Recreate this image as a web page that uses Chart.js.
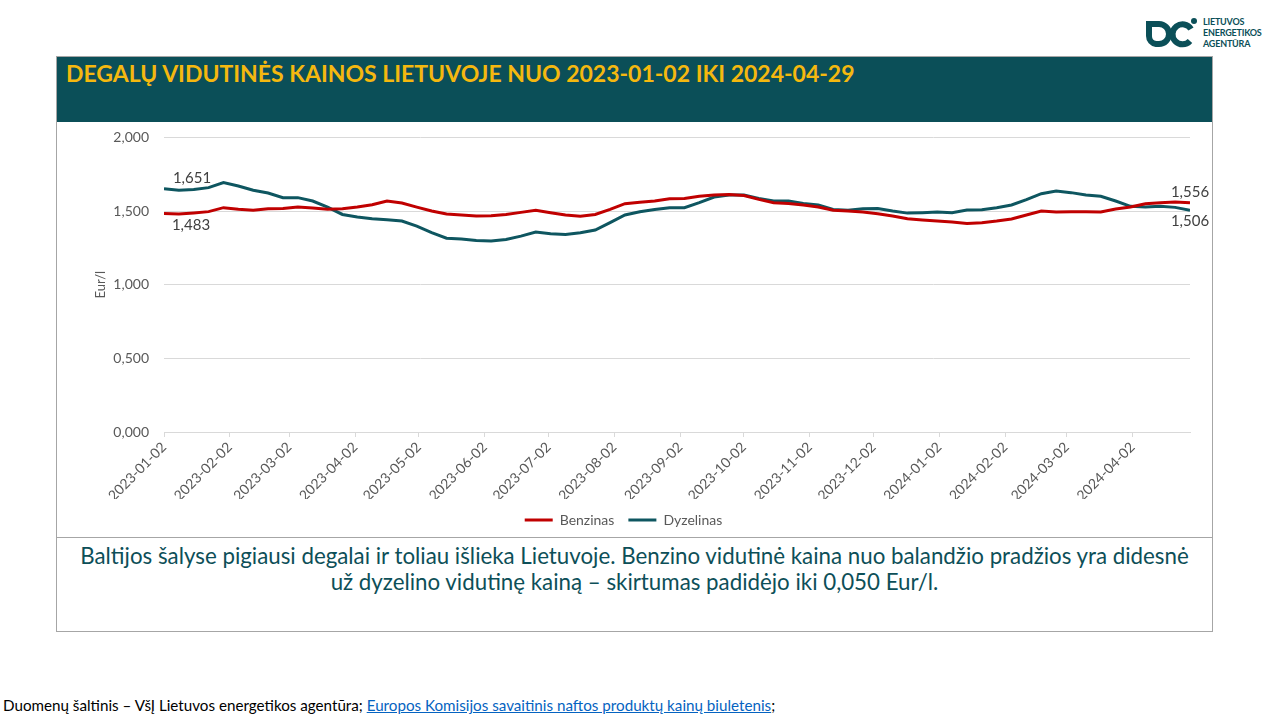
<!DOCTYPE html>
<html>
<head>
<meta charset="utf-8">
<script src="https://cdn.jsdelivr.net/npm/chart.js@4.4.1/dist/chart.umd.min.js"></script>
<style>
body{margin:0;width:1263px;height:720px;background:#fff;position:relative;overflow:hidden;font-family:Lato,"Open Sans",sans-serif;}
#frame{position:absolute;left:56px;top:56px;width:1155px;height:574px;border:1px solid #a6a6a6;}
#head{position:absolute;left:57px;top:57px;width:1155px;height:65px;background:#0b4f58;}
#title{position:absolute;left:66px;top:60px;line-height:26px;color:#f5b80f;font-weight:bold;font-size:23px;white-space:nowrap;}
#chartbox{position:absolute;left:57px;top:114px;width:1154px;height:423px;}
#sep{position:absolute;left:56px;top:537px;width:1157px;height:1px;background:#a6a6a6;}
#note{position:absolute;left:57px;top:543px;width:1155px;text-align:center;color:#0d4f58;font-size:22.3px;line-height:26px;}
#src{position:absolute;left:3px;top:696px;font-size:15.2px;line-height:18px;color:#000;white-space:nowrap;}
#src a{color:#0563c1;text-decoration:underline;}
#logo{position:absolute;left:1144px;top:16px;}
#logotext{position:absolute;left:1203px;top:16px;font-size:9px;line-height:11px;font-weight:bold;letter-spacing:-0.2px;color:#0b4f58;}
</style>
</head>
<body>
<svg id="logo" width="56" height="34" viewBox="0 0 56 34">
  <path d="M5 8 H15 A10 10 0 0 1 15 28 H12 A8 8 0 0 1 5 20 Z" fill="none" stroke="#0b4f58" stroke-width="6"/>
  <path d="M47 13 A10 10 0 1 0 46 25" fill="none" stroke="#0b4f58" stroke-width="6"/>
  <circle cx="50" cy="5" r="3" fill="#0b4f58"/>
</svg>
<div id="logotext">LIETUVOS<br>ENERGETIKOS<br>AGENTŪRA</div>
<div id="frame"></div>
<div id="head"></div>
<div id="title">DEGALŲ VIDUTINĖS KAINOS LIETUVOJE NUO 2023-01-02 IKI 2024-04-29</div>
<div id="chartbox"><canvas id="fuel" width="1154" height="423"></canvas></div>
<div id="sep"></div>
<div id="note">Baltijos šalyse pigiausi degalai ir toliau išlieka Lietuvoje. Benzino vidutinė kaina nuo balandžio pradžios yra didesnė<br>už dyzelino vidutinę kainą – skirtumas padidėjo iki 0,050 Eur/l.</div>
<div id="src">Duomenų šaltinis – VšĮ Lietuvos energetikos agentūra; <a href="#">Europos Komisijos savaitinis naftos produktų kainų biuletenis</a>;</div>
<script>
// weekly observation dates (Mondays)
const weeks = [
  '2023-01-02','2023-01-09','2023-01-16','2023-01-23','2023-01-30',
  '2023-02-06','2023-02-13','2023-02-20','2023-02-27',
  '2023-03-06','2023-03-13','2023-03-20','2023-03-27',
  '2023-04-03','2023-04-10','2023-04-17','2023-04-24',
  '2023-05-01','2023-05-08','2023-05-15','2023-05-22','2023-05-29',
  '2023-06-05','2023-06-12','2023-06-19','2023-06-26',
  '2023-07-03','2023-07-10','2023-07-17','2023-07-24','2023-07-31',
  '2023-08-07','2023-08-14','2023-08-21','2023-08-28',
  '2023-09-04','2023-09-11','2023-09-18','2023-09-25',
  '2023-10-02','2023-10-09','2023-10-16','2023-10-23','2023-10-30',
  '2023-11-06','2023-11-13','2023-11-20','2023-11-27',
  '2023-12-04','2023-12-11','2023-12-18','2023-12-25',
  '2024-01-01','2024-01-08','2024-01-15','2024-01-22','2024-01-29',
  '2024-02-05','2024-02-12','2024-02-19','2024-02-26',
  '2024-03-04','2024-03-11','2024-03-18','2024-03-25',
  '2024-04-01','2024-04-08','2024-04-15','2024-04-22','2024-04-29'
];

const benzinas = [
  1.483, 1.480, 1.487, 1.496, 1.523, 1.512, 1.505, 1.516, 1.518, 1.527,
  1.520, 1.512, 1.516, 1.527, 1.543, 1.568, 1.555, 1.527, 1.500, 1.480,
  1.473, 1.466, 1.468, 1.477, 1.491, 1.505, 1.489, 1.473, 1.464, 1.477,
  1.511, 1.550, 1.559, 1.568, 1.584, 1.586, 1.600, 1.609, 1.613, 1.605,
  1.579, 1.557, 1.552, 1.541, 1.527, 1.505, 1.500, 1.493, 1.482, 1.466,
  1.448, 1.439, 1.432, 1.425, 1.416, 1.421, 1.432, 1.446, 1.473, 1.500,
  1.493, 1.495, 1.495, 1.493, 1.514, 1.527, 1.550, 1.557, 1.561, 1.556
];

const dyzelinas = [
  1.651, 1.641, 1.647, 1.659, 1.693, 1.670, 1.641, 1.622, 1.591, 1.591,
  1.568, 1.527, 1.477, 1.459, 1.448, 1.441, 1.432, 1.398, 1.353, 1.316,
  1.310, 1.300, 1.296, 1.307, 1.330, 1.357, 1.346, 1.341, 1.353, 1.371,
  1.421, 1.473, 1.495, 1.511, 1.523, 1.523, 1.557, 1.595, 1.609, 1.609,
  1.586, 1.568, 1.568, 1.552, 1.541, 1.511, 1.505, 1.516, 1.518, 1.500,
  1.486, 1.489, 1.493, 1.489, 1.507, 1.509, 1.523, 1.541, 1.577, 1.618,
  1.636, 1.625, 1.609, 1.600, 1.568, 1.532, 1.527, 1.532, 1.525, 1.506
];

const monthTicks = [
  '2023-01-02','2023-02-02','2023-03-02','2023-04-02','2023-05-02','2023-06-02',
  '2023-07-02','2023-08-02','2023-09-02','2023-10-02','2023-11-02','2023-12-02',
  '2024-01-02','2024-02-02','2024-03-02','2024-04-02'
];
const yTicks = [0, 0.5, 1, 1.5, 2];
const seriesNames = ['Benzinas', 'Dyzelinas'];

const dayMs = 86400000;
function dayOf(s) { return Math.round((Date.parse(s) - Date.parse(weeks[0])) / dayMs); }
function fmt(v) { return v.toFixed(3).replace('.', ','); }

Chart.defaults.font.family = 'Lato, "Open Sans", sans-serif';
Chart.defaults.color = '#595959';

// value labels at the first and last points
const endLabels = {
  id: 'endLabels',
  afterDatasetsDraw(chart) {
    const ctx = chart.ctx;
    const last = weeks.length - 1;
    // [dataset, index, dy, dx]
    const spots = [[1, 0, -11, 28], [0, 0, 12, 27], [0, last, -11, 0], [1, last, 11, 0]];
    ctx.save();
    ctx.font = '15px Lato, "Open Sans", sans-serif';
    ctx.fillStyle = '#404040';
    ctx.textAlign = 'center';
    ctx.textBaseline = 'middle';
    spots.forEach(function(s) {
      const pt = chart.getDatasetMeta(s[0]).data[s[1]];
      const val = chart.data.datasets[s[0]].data[s[1]].y;
      ctx.fillText(fmt(val), pt.x + s[3], pt.y + s[2]);
    });
    ctx.restore();
  }
};

const ctx1 = document.getElementById('fuel').getContext('2d');
new Chart(ctx1, {
  type: 'line',
  data: {
    datasets: [
      {
        label: seriesNames[0],
        data: weeks.map((d, i) => ({ x: dayOf(d), y: benzinas[i] })),
        borderColor: '#c00000',
        backgroundColor: '#c00000',
        borderWidth: 3,
        pointRadius: 0,
        tension: 0,
        fill: false
      },
      {
        label: seriesNames[1],
        data: weeks.map((d, i) => ({ x: dayOf(d), y: dyzelinas[i] })),
        borderColor: '#0e5660',
        backgroundColor: '#0e5660',
        borderWidth: 3,
        pointRadius: 0,
        tension: 0,
        fill: false
      }
    ]
  },
  options: {
    responsive: false,
    animation: false,
    devicePixelRatio: 1,
    layout: { padding: { left: 0, right: 21, top: 6, bottom: 0 } },
    scales: {
      x: {
        type: 'linear',
        min: 0,
        max: dayOf(weeks[weeks.length - 1]),
        afterBuildTicks: s => { s.ticks = monthTicks.map(d => ({ value: dayOf(d) })); },
        afterFit: s => { s.height = 67; },
        ticks: {
          autoSkip: false,
          minRotation: 45,
          maxRotation: 45,
          padding: 2,
          color: '#595959',
          font: { size: 14 },
          callback: v => monthTicks.find(d => dayOf(d) === v)
        },
        grid: { drawOnChartArea: false, tickLength: 5, color: '#d9d9d9' },
        border: { color: '#d9d9d9' }
      },
      y: {
        min: 0,
        max: 2,
        afterBuildTicks: s => { s.ticks = yTicks.map(v => ({ value: v })); },
        afterFit: s => { s.width = 107; },
        ticks: { padding: 15, color: '#595959', font: { size: 14 }, callback: v => fmt(v) },
        grid: { color: '#d9d9d9', drawTicks: false },
        border: { display: false },
        title: { display: true, text: 'Eur/l', color: '#595959', font: { size: 13 }, padding: { top: 36, bottom: 0 } }
      }
    },
    plugins: {
      legend: {
        position: 'bottom',
        labels: {
          usePointStyle: true,
          pointStyle: 'line',
          pointStyleWidth: 28,
          padding: 14,
          color: '#595959',
          font: { size: 14 }
        }
      },
      tooltip: { enabled: false }
    }
  },
  plugins: [endLabels]
});
</script>
</body>
</html>
